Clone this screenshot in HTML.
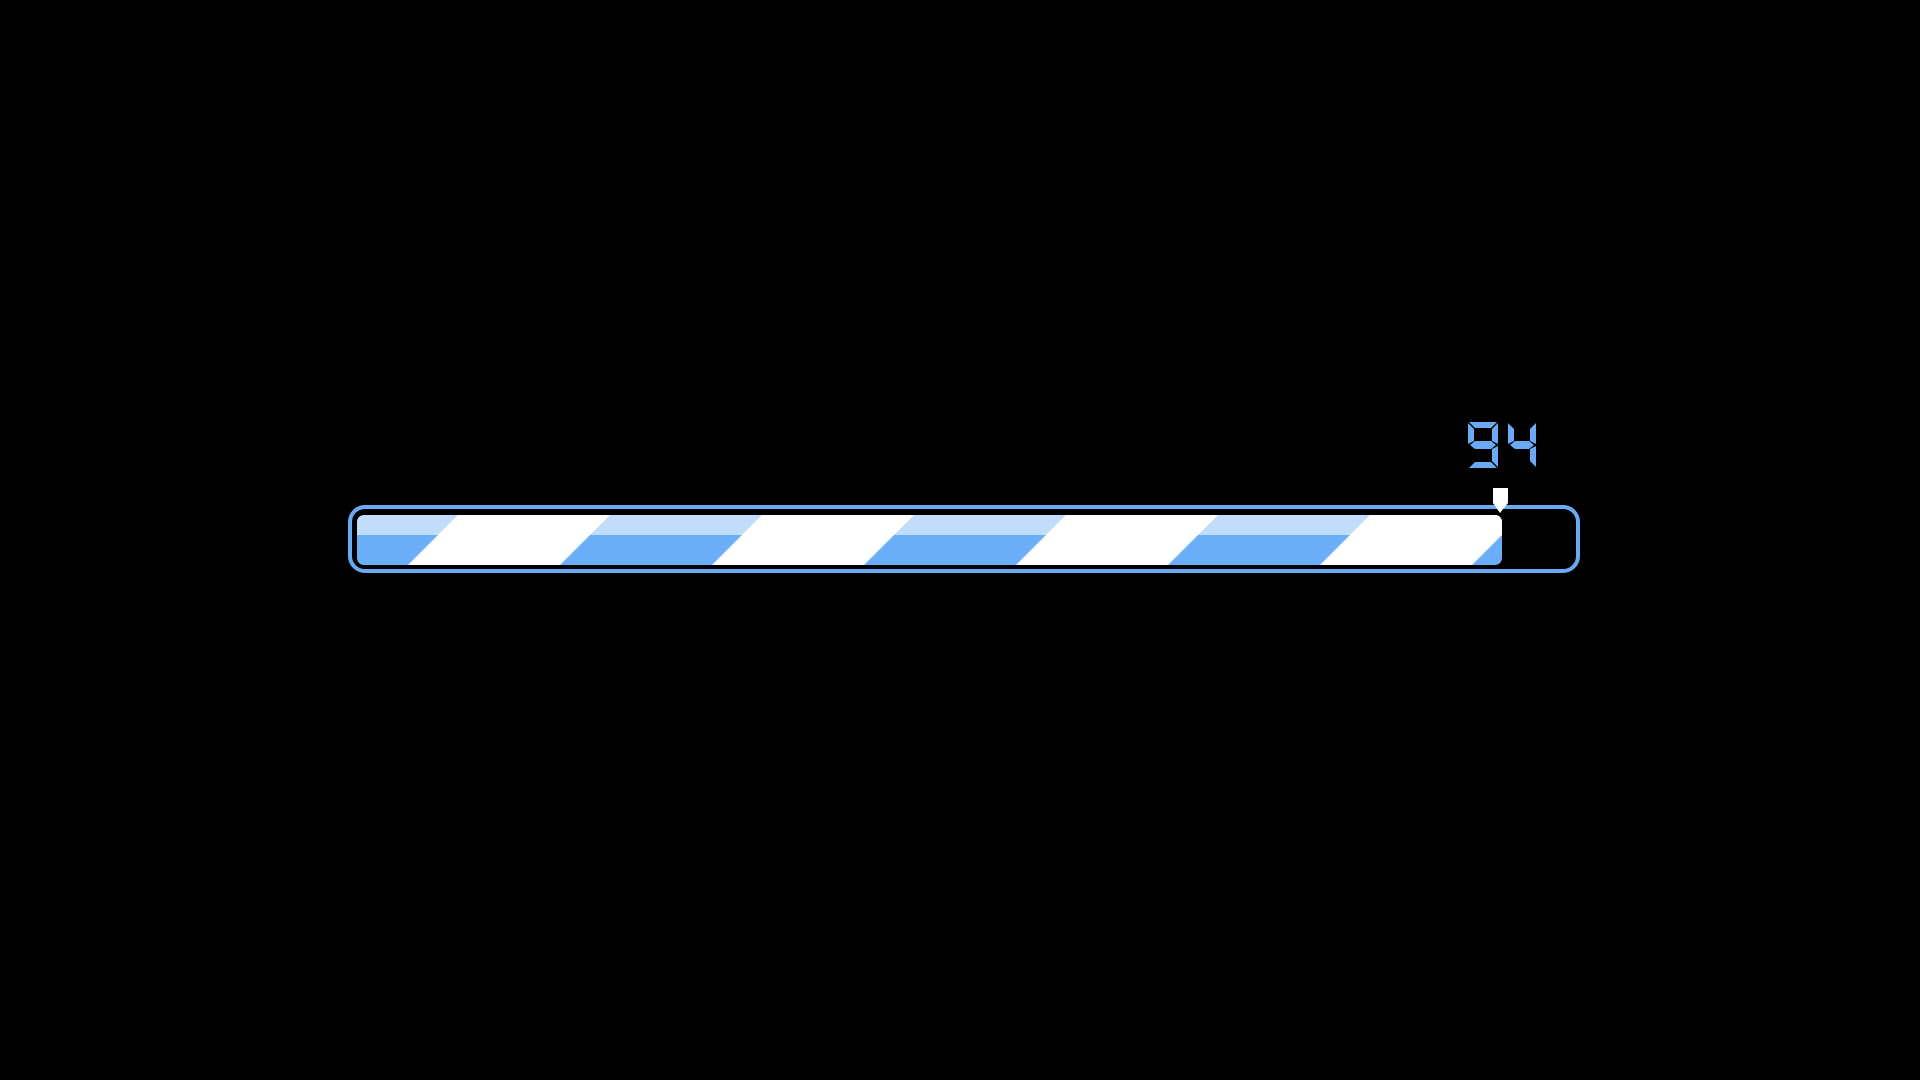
<!DOCTYPE html>
<html><head><style>html,body{margin:0;padding:0;background:#000;width:1920px;height:1080px;overflow:hidden}</style></head>
<body>
<svg width="1920" height="1080" viewBox="0 0 1920 1080" xmlns="http://www.w3.org/2000/svg">
<rect width="1920" height="1080" fill="#000"/>
<defs><clipPath id="c"><rect x="357" y="515" width="1145" height="50" rx="7"/></clipPath></defs>
<rect x="350" y="507" width="1228" height="64" rx="15" fill="none" stroke="#6aaaf5" stroke-width="4"/>
<g clip-path="url(#c)">
<rect x="357" y="515" width="1145" height="20" fill="#c2dcfc"/>
<rect x="357" y="535" width="1145" height="30" fill="#6aaef8"/>
<g fill="#fff">
<polygon points="104,565 154,515 306,515 256,565"/>
<polygon points="408,565 458,515 610,515 560,565"/>
<polygon points="712,565 762,515 914,515 864,565"/>
<polygon points="1016,565 1066,515 1218,515 1168,565"/>
<polygon points="1320,565 1370,515 1522,515 1472,565"/>
</g>
</g>
<polygon points="1493,488 1508,488 1508,503 1500,513 1493,503" fill="#fff"/>
<g fill="#6aaaf5">
<!-- 9 -->
<polygon points="1469,422 1497,422 1491,428 1475,428"/>
<polygon points="1468,423 1474,429 1474,441 1468,444"/>
<polygon points="1498,423 1498,444 1492,441 1492,429"/>
<polygon points="1470,445 1475,441 1491,441 1496,445 1491,449 1475,449"/>
<polygon points="1498,446 1498,467 1492,461 1492,449"/>
<polygon points="1469,468 1475,462 1491,462 1497,468"/>
<!-- 4 -->
<polygon points="1508,423 1514,429 1514,441 1508,444"/>
<polygon points="1536,423 1536,444 1530,441 1530,429"/>
<polygon points="1510,445 1515,441 1529,441 1534,445 1529,449 1515,449"/>
<polygon points="1536,446 1536,467 1530,461 1530,449"/>
</g>
</svg>
</body></html>
